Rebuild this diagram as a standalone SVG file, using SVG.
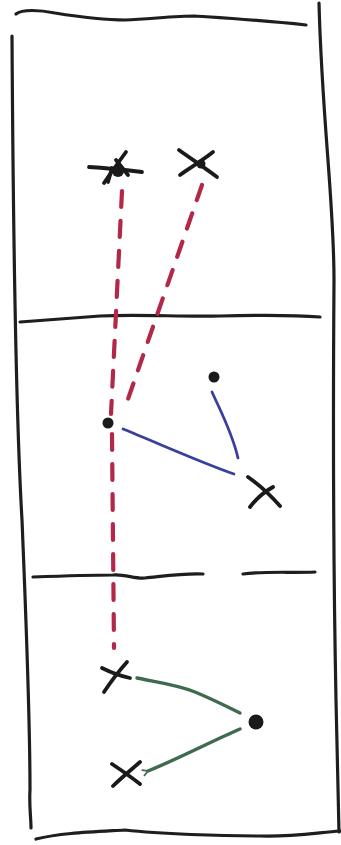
<svg xmlns="http://www.w3.org/2000/svg" width="341" height="845" viewBox="0 0 341 845">
<style>
.ink{fill:none;stroke:#1e1e1e;stroke-width:3.2;stroke-linecap:round;stroke-linejoin:round}
.xk{fill:none;stroke:#1a1a1a;stroke-width:3.8;stroke-linecap:round}
.dot{fill:#1a1a1a}
.red{fill:none;stroke:#b32848;stroke-width:4.2;stroke-linecap:round;stroke-dasharray:16 14}
.blue{fill:none;stroke:#3a3f9e;stroke-width:2.8;stroke-linecap:round}
.green{fill:none;stroke:#3e6a4e;stroke-width:3.4;stroke-linecap:round}
</style>
<defs>
<marker id="hook" viewBox="0 0 10 10" refX="1" refY="5" markerWidth="8" markerHeight="8" orient="auto-start-reverse" markerUnits="userSpaceOnUse">
<path d="M8,1 L1,5 L8,9" fill="none" stroke="#3e6a4e" stroke-width="2.2"/>
</marker>
</defs>
<rect width="341" height="845" fill="#fff"/>
<g id="field">
<path class="ink" d="M16,14 C22,9 40,10 55,13 C80,17 100,20 125,20 C150,19 175,16 195,16 C225,18 260,20 306,25"/>
<path class="ink" d="M12,36 C13,200 15,400 22,520 C27,640 30,740 30,790 C29,805 31,818 31,828"/>
<path class="ink" d="M319,3 C322,120 334,200 334,280 C333,420 334,600 336,700 C337,760 338,800 339,832"/>
<path class="ink" d="M36,839 C60,833 90,832 125,830 C160,834 220,836 260,836 C290,837 315,833 340,831"/>
<path class="ink" d="M20,322 C45,320 70,318 100,316 C140,314 180,317 220,316 C260,315 295,315 320,317"/>
<path class="ink" d="M33,577 C60,576 90,575 113,575 C125,574 135,579 145,578 C165,576 185,573 203,574"/>
<path class="ink" d="M243,574 C265,571 290,573 315,572"/>
</g>
<g id="connectors">
<path class="red" d="M122,191 L111,414"/>
<path class="red" d="M112,434 L114,648"/>
<path class="red" d="M202,185 L127,402"/>
<path class="blue" d="M212,392 C220,410 232,432 238,458"/>
<path class="blue" d="M123,429 C160,444 200,462 234,474"/>
<path class="green" d="M137,678 C155,682 175,684 195,692 C212,699 228,707 240,713"/>
<path class="green" d="M240,729 C210,742 180,758 148,771" marker-end="url(#hook)"/>
</g>
<g id="player-a">
<path class="xk" d="M89,167 C105,168 125,170 142,172"/>
<path class="xk" d="M126,152 C118,163 110,174 104,183"/>
<path class="xk" d="M116,160 L128,175"/>
<path class="xk" d="M112,168 L108,182"/>
<circle class="dot" cx="118" cy="171" r="6"/>
</g>
<g id="player-b">
<path class="xk" d="M179,150 C190,158 205,168 217,177"/>
<path class="xk" d="M213,152 C203,160 190,168 180,175"/>
<circle class="dot" cx="201" cy="164" r="4.5"/>
</g>
<g id="ball-1">
<circle class="dot" cx="108" cy="423" r="5.5"/>
</g>
<g id="ball-2">
<circle class="dot" cx="214" cy="377" r="5.5"/>
</g>
<g id="player-c">
<path class="xk" d="M248,477 C258,484 272,497 280,506"/>
<path class="xk" d="M273,487 C264,492 256,499 250,507"/>
</g>
<g id="player-d">
<path class="xk" d="M127,662 C118,672 110,683 104,692"/>
<path class="xk" d="M102,668 C110,672 120,676 130,678"/>
</g>
<g id="ball-3">
<circle class="dot" cx="256" cy="722" r="7.5"/>
</g>
<g id="player-e">
<path class="xk" d="M112,764 C121,770 131,777 140,784"/>
<path class="xk" d="M140,762 C132,769 121,778 113,786"/>
</g>
</svg>
